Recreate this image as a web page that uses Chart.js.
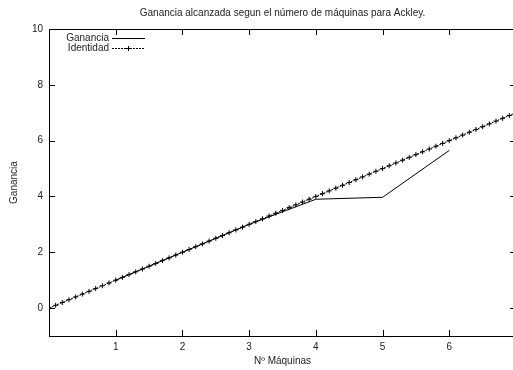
<!DOCTYPE html>
<html>
<head>
<meta charset="utf-8">
<script src="https://cdn.jsdelivr.net/npm/chart.js@4.4.0/dist/chart.umd.min.js"></script>
<style>
  html, body { margin: 0; padding: 0; overflow: hidden; background: #fff; }
  canvas { display: block; }
</style>
</head>
<body>
<canvas id="myChart" width="521" height="370"></canvas>
<script>
const maquinas = [1, 2, 3, 4, 5, 6];
const ganancia = [1, 2, 3, 3.9, 3.97, 5.65];

const identX = [0, 0.1, 0.2, 0.3, 0.4, 0.5, 0.6, 0.7, 0.8, 0.9,
  1, 1.1, 1.2, 1.3, 1.4, 1.5, 1.6, 1.7, 1.8, 1.9,
  2, 2.1, 2.2, 2.3, 2.4, 2.5, 2.6, 2.7, 2.8, 2.9,
  3, 3.1, 3.2, 3.3, 3.4, 3.5, 3.6, 3.7, 3.8, 3.9,
  4, 4.1, 4.2, 4.3, 4.4, 4.5, 4.6, 4.7, 4.8, 4.9,
  5, 5.1, 5.2, 5.3, 5.4, 5.5, 5.6, 5.7, 5.8, 5.9,
  6, 6.1, 6.2, 6.3, 6.4, 6.5, 6.6, 6.7, 6.8, 6.9, 7];
const identY = [0, 0.1, 0.2, 0.3, 0.4, 0.5, 0.6, 0.7, 0.8, 0.9,
  1, 1.1, 1.2, 1.3, 1.4, 1.5, 1.6, 1.7, 1.8, 1.9,
  2, 2.1, 2.2, 2.3, 2.4, 2.5, 2.6, 2.7, 2.8, 2.9,
  3, 3.1, 3.2, 3.3, 3.4, 3.5, 3.6, 3.7, 3.8, 3.9,
  4, 4.1, 4.2, 4.3, 4.4, 4.5, 4.6, 4.7, 4.8, 4.9,
  5, 5.1, 5.2, 5.3, 5.4, 5.5, 5.6, 5.7, 5.8, 5.9,
  6, 6.1, 6.2, 6.3, 6.4, 6.5, 6.6, 6.7, 6.8, 6.9, 7];

const xTicks = [1, 2, 3, 4, 5, 6];
const yTicks = [0, 2, 4, 6, 8, 10];

const font = { family: "'Liberation Sans', Arial, sans-serif", size: 10, weight: "normal" };
const textColor = "#222";

// gnuplot style frame, inward ticks and legend
const gnuplotFrame = {
  id: "gnuplotFrame",
  afterDraw(chart) {
    const ctx = chart.ctx;
    const a = chart.chartArea;
    const xs = chart.scales.x, ys = chart.scales.y;
    ctx.save();
    ctx.strokeStyle = "#000";
    ctx.lineWidth = 1;
    ctx.strokeRect(Math.round(a.left) + 0.5, Math.round(a.top) + 0.5,
      Math.round(a.right - a.left), Math.round(a.bottom - a.top));
    ctx.beginPath();
    xTicks.forEach(v => {
      const px = Math.round(xs.getPixelForValue(v)) + 0.5;
      ctx.moveTo(px, a.bottom); ctx.lineTo(px, a.bottom - 6);
      ctx.moveTo(px, a.top); ctx.lineTo(px, a.top + 6);
    });
    yTicks.forEach(v => {
      const py = Math.round(ys.getPixelForValue(v)) + 0.5;
      ctx.moveTo(a.left, py); ctx.lineTo(a.left + 6, py);
      ctx.moveTo(a.right, py); ctx.lineTo(a.right - 6, py);
    });
    ctx.stroke();

    // legend
    ctx.font = "10px 'Liberation Sans', Arial, sans-serif";
    ctx.fillStyle = textColor;
    ctx.textAlign = "right";
    ctx.textBaseline = "middle";
    const tx = 109, lx0 = 112, lx1 = 145;
    chart.data.datasets.forEach((ds, i) => {
      const y = 38.5 + i * 10;
      ctx.fillText(ds.label, tx, y);
      ctx.beginPath();
      ctx.setLineDash(ds.borderDash || []);
      ctx.moveTo(lx0, y); ctx.lineTo(lx1, y);
      ctx.stroke();
      ctx.setLineDash([]);
      if (ds.pointRadius) {
        const cx = (lx0 + lx1) / 2;
        ctx.beginPath();
        ctx.moveTo(cx - 2.5, y); ctx.lineTo(cx + 2.5, y);
        ctx.moveTo(cx, y - 2.5); ctx.lineTo(cx, y + 2.5);
        ctx.stroke();
      }
    });
    ctx.restore();
  }
};

new Chart("myChart", {
  type: "line",
  data: {
    datasets: [{
      label: "Ganancia",
      data: maquinas.map((x, i) => ({ x: x, y: ganancia[i] })),
      borderColor: "#000",
      borderWidth: 1,
      pointRadius: 0,
      fill: false
    }, {
      label: "Identidad",
      data: identX.map((x, i) => ({ x: x, y: identY[i] })),
      borderColor: "#000",
      borderWidth: 1,
      borderDash: [2, 1],
      pointStyle: "cross",
      pointRadius: 2.5,
      pointBorderWidth: 1,
      pointBorderColor: "#000",
      fill: false
    }]
  },
  options: {
    responsive: false,
    animation: false,
    layout: { padding: 0, autoPadding: false },
    plugins: {
      legend: { display: false },
      tooltip: { enabled: false },
      title: {
        display: true,
        fullSize: false,
        text: "Ganancia alcanzada segun el número de máquinas para Ackley.",
        color: textColor,
        font: font,
        padding: { top: 7, bottom: 10 }
      }
    },
    scales: {
      x: {
        type: "linear",
        min: 0,
        max: 7,
        border: { display: false },
        grid: { display: false, drawTicks: false },
        ticks: {
          stepSize: 1,
          includeBounds: false,
          padding: 5,
          color: textColor,
          font: font,
          maxRotation: 0,
          callback: v => (xTicks.includes(v) ? v : "")
        },
        title: {
          display: true,
          text: "Nº Máquinas",
          color: textColor,
          font: font,
          padding: { top: 0, bottom: 3 }
        },
        afterFit: s => { s.height = 34; }
      },
      y: {
        type: "linear",
        min: -1,
        max: 10,
        border: { display: false },
        grid: { display: false, drawTicks: false },
        ticks: {
          stepSize: 2,
          includeBounds: false,
          padding: 6,
          color: textColor,
          font: font,
          callback: v => (yTicks.includes(v) ? v : "")
        },
        title: {
          display: true,
          text: "Ganancia",
          color: textColor,
          font: font,
          padding: { top: 8, bottom: 0 }
        },
        afterFit: s => { s.width = 49; }
      }
    }
  },
  plugins: [gnuplotFrame]
});
</script>
</body>
</html>
